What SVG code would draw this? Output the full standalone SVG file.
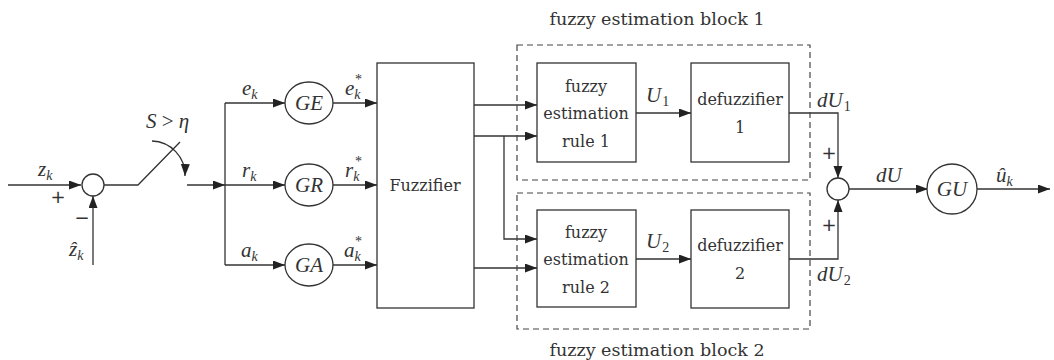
<svg xmlns="http://www.w3.org/2000/svg" width="1054" height="360" viewBox="0 0 1054 360">
<defs>
<marker id="ah" markerUnits="userSpaceOnUse" markerWidth="13" markerHeight="10" refX="12" refY="4.5" orient="auto"><path d="M0,0 L12,4.5 L0,9 z" fill="#222"/></marker>
<style>
.ln{fill:none;stroke:#333;stroke-width:1.3}
.ar{fill:none;stroke:#333;stroke-width:1.3;marker-end:url(#ah)}
.bx{fill:#fff;stroke:#333;stroke-width:1.3}
.dash{fill:none;stroke:#444;stroke-width:1.2;stroke-dasharray:6 4}
.t{font-family:"DejaVu Serif",serif;font-size:16px;fill:#333;text-anchor:middle}
.tt{font-family:"DejaVu Serif",serif;font-size:17.5px;fill:#333;text-anchor:middle}
.m{font-family:"Liberation Serif",serif;font-style:italic;font-size:21px;fill:#333}
.s{font-size:14px}
.sd{font-size:14px;font-style:normal}
.st{font-family:"Liberation Serif",serif;font-size:14px;fill:#333}
.pm{font-family:"DejaVu Sans",sans-serif;font-size:18px;fill:#333;text-anchor:middle}
</style>
</defs>
<rect width="1054" height="360" fill="#fff"/>

<g id="connectors">
<path class="ar" d="M8,185 H81"/>
<path class="ar" d="M93,265 V196"/>
<path class="ln" d="M104,185 H138 L180,142"/>
<path class="ar" d="M152,141 A34,34 0 0 1 185,176"/>
<path class="ar" d="M187,185 H225"/>
<path class="ln" d="M225,103 V265"/>
<path class="ar" d="M225,103 H285"/>
<path class="ar" d="M225,185 H285"/>
<path class="ar" d="M225,265 H285"/>
<path class="ar" d="M332,103 H377"/>
<path class="ar" d="M332,185 H377"/>
<path class="ar" d="M332,265 H377"/>
<path class="ar" d="M474,105 H537"/>
<path class="ar" d="M474,136 H537"/>
<path class="ar" d="M504,136 V239 H537"/>
<path class="ar" d="M474,268 H537"/>
<path class="ar" d="M636,113 H691"/>
<path class="ar" d="M636,259 H691"/>
<path class="ar" d="M789,113 H838 V178"/>
<path class="ar" d="M789,259 H838 V200"/>
<path class="ar" d="M849,189 H928"/>
<path class="ar" d="M976,189 H1050"/>
</g>

<g id="sum1"><circle class="bx" cx="93" cy="185" r="11"/></g>
<g id="labels-left">
<text class="m" x="38" y="176">z<tspan class="s" dy="4">k</tspan></text>
<text class="pm" x="58" y="203">+</text>
<text class="pm" x="82" y="224">−</text>
<text class="m" x="69" y="256">ẑ<tspan class="s" dy="4">k</tspan></text>
<text class="m" x="146" y="128">S <tspan font-style="normal">&gt;</tspan> η</text>
</g>

<g id="GE"><ellipse class="bx" cx="309" cy="103" rx="24" ry="21"/><text class="m" x="309" y="110" text-anchor="middle">GE</text></g>
<g id="GR"><ellipse class="bx" cx="309" cy="185" rx="24" ry="21"/><text class="m" x="309" y="192" text-anchor="middle">GR</text></g>
<g id="GA"><ellipse class="bx" cx="309" cy="265" rx="24" ry="21"/><text class="m" x="309" y="272" text-anchor="middle">GA</text></g>

<g id="signal-labels">
<text class="m" x="242" y="95">e<tspan class="s" dy="4">k</tspan></text>
<text class="m" x="242" y="177">r<tspan class="s" dy="4">k</tspan></text>
<text class="m" x="241" y="257">a<tspan class="s" dy="4">k</tspan></text>
<text class="m" x="345" y="95">e<tspan class="s" dy="4">k</tspan></text><text class="st" x="355" y="84">*</text>
<text class="m" x="345" y="177">r<tspan class="s" dy="4">k</tspan></text><text class="st" x="355" y="166">*</text>
<text class="m" x="344" y="257">a<tspan class="s" dy="4">k</tspan></text><text class="st" x="355" y="246">*</text>
</g>

<g id="fuzzifier"><rect class="bx" x="377" y="63" width="97" height="245"/><text class="t" x="425" y="191">Fuzzifier</text></g>

<g id="block1">
<rect class="dash" x="517" y="45" width="293" height="135"/>
<text class="tt" x="657" y="25">fuzzy estimation block 1</text>
</g>
<g id="block2">
<rect class="dash" x="517" y="193" width="293" height="136"/>
<text class="tt" x="657" y="356">fuzzy estimation block 2</text>
</g>

<g id="rule1"><rect class="bx" x="537" y="63" width="99" height="99"/>
<text class="t" x="586" y="92">fuzzy</text><text class="t" x="586" y="119">estimation</text><text class="t" x="586" y="147">rule  1</text></g>
<g id="rule2"><rect class="bx" x="537" y="210" width="99" height="97"/>
<text class="t" x="586" y="238">fuzzy</text><text class="t" x="586" y="265">estimation</text><text class="t" x="586" y="293">rule  2</text></g>

<g id="defuzz1"><rect class="bx" x="691" y="63" width="98" height="99"/>
<text class="t" x="740" y="105">defuzzifier</text><text class="t" x="740" y="133">1</text></g>
<g id="defuzz2"><rect class="bx" x="691" y="210" width="98" height="98"/>
<text class="t" x="740" y="251">defuzzifier</text><text class="t" x="740" y="279">2</text></g>

<g id="mid-labels">
<text class="m" x="646" y="102">U<tspan class="sd" dx="1" dy="4">1</tspan></text>
<text class="m" x="646" y="248">U<tspan class="sd" dx="1" dy="4">2</tspan></text>
<text class="m" x="817" y="107">dU<tspan class="sd" dx="1" dy="4">1</tspan></text>
<text class="m" x="817" y="281">dU<tspan class="sd" dx="1" dy="4">2</tspan></text>
<text class="pm" x="829" y="159">+</text>
<text class="pm" x="829" y="231">+</text>
<text class="m" x="876" y="182">dU</text>
</g>

<g id="sum2"><circle class="bx" cx="838" cy="189" r="11"/></g>
<g id="GU"><ellipse class="bx" cx="952" cy="189" rx="25" ry="25"/><text class="m" x="952" y="196" text-anchor="middle">GU</text></g>
<g id="output-label"><text class="m" x="996" y="182">û<tspan class="s" dy="4">k</tspan></text></g>
</svg>
